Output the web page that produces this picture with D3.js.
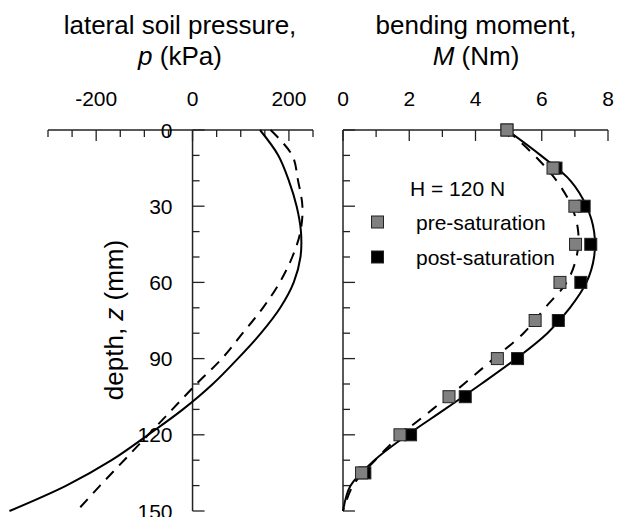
<!DOCTYPE html>
<html>
<head>
<meta charset="utf-8">
<script src="https://cdn.jsdelivr.net/npm/d3@7"></script>
<style>
  html, body { margin: 0; padding: 0; background: #fff; }
  svg { display: block; font-family: "Liberation Sans", Arial, sans-serif; }
</style>
</head>
<body>
<svg id="chart" width="617" height="517"></svg>
<script>
// ---- data ----
const depthGrid = [0, 10, 20, 30, 40, 50, 60, 70, 80, 90, 100, 110, 120, 130, 140, 150];
const pressureSolid = [140, 178, 200, 216, 225, 224, 210, 182, 142, 94, 42, -20, -92, -168, -262, -380];
const pressureDashed = [162, 207, 219, 228, 224, 207, 181, 146, 104, 61, 8, -42, -92, -142, -192, -240];
const momentSolid = [4.95, 5.97, 6.87, 7.35, 7.58, 7.58, 7.35, 6.85, 6.17, 5.23, 4.17, 3.07, 1.95, 0.95, 0.23, 0];
const momentDashed = [4.95, 5.78, 6.45, 6.9, 7.1, 7.05, 6.75, 6.1, 5.45, 4.55, 3.65, 2.7, 1.75, 0.97, 0.3, 0];

const markerDepths = [0, 15, 30, 45, 60, 75, 90, 105, 120, 135];
const momentPre = [4.95, 6.34, 7.0, 7.02, 6.55, 5.8, 4.66, 3.2, 1.72, 0.56];
const momentPost = [4.95, 6.43, 7.28, 7.48, 7.18, 6.5, 5.27, 3.69, 2.04, 0.66];

const pressureTicks = [-300, -250, -200, -150, -100, -50, 0, 50, 100, 150, 200, 250];
const pressureLabels = [-200, 0, 200];
const momentTicks = [0, 1, 2, 3, 4, 5, 6, 7, 8];
const momentLabels = [0, 2, 4, 6, 8];
const depthTicks = [0, 10, 20, 30, 40, 50, 60, 70, 80, 90, 100, 110, 120, 130, 140, 150];
const depthLabels = [0, 30, 60, 90, 120, 150];

const legendTitle = "H = 120 N";
const seriesNames = ["pre-saturation", "post-saturation"];

// ---- layout ----
const svg = d3.select("#chart");
const yTop = 130, yBottom = 511;
const y = d3.scaleLinear().domain([0, 150]).range([yTop, yBottom]);
const xP = d3.scaleLinear().domain([-300, 250]).range([48, 313]);
const xM = d3.scaleLinear().domain([0, 8]).range([343, 608]);

const axisColor = "#222";
const majorLen = 11, minorLen = 7;

function drawXAxis(scale, ticks, labels, majors) {
  const g = svg.append("g");
  g.append("line").attr("x1", scale.range()[0]).attr("x2", scale.range()[1])
    .attr("y1", yTop).attr("y2", yTop).attr("stroke", axisColor).attr("stroke-width", 1.5);
  g.selectAll("line.t").data(ticks).enter().append("line")
    .attr("x1", d => scale(d)).attr("x2", d => scale(d))
    .attr("y1", yTop).attr("y2", d => yTop + (majors.includes(d) ? majorLen : minorLen))
    .attr("stroke", axisColor).attr("stroke-width", 1.3);
  g.selectAll("text").data(labels).enter().append("text")
    .attr("x", d => scale(d)).attr("y", 106)
    .attr("text-anchor", "middle").attr("font-size", 21).attr("fill", "#000")
    .text(d => String(d));
}

function drawYAxis(x0, withLabels) {
  const g = svg.append("g");
  g.append("line").attr("x1", x0).attr("x2", x0).attr("y1", yTop).attr("y2", yBottom)
    .attr("stroke", axisColor).attr("stroke-width", 1.5);
  g.selectAll("line.t").data(depthTicks).enter().append("line")
    .attr("x1", x0).attr("x2", d => x0 + (depthLabels.includes(d) ? majorLen + 1 : minorLen))
    .attr("y1", d => y(d)).attr("y2", d => y(d))
    .attr("stroke", axisColor).attr("stroke-width", 1.3);
  if (withLabels) {
    g.selectAll("text").data(depthLabels).enter().append("text")
      .attr("x", x0 - 20).attr("y", d => y(d)).attr("dy", "0.36em")
      .attr("text-anchor", "end").attr("font-size", 21).attr("fill", "#000")
      .text(d => String(d));
  }
}

// titles
function title(cx, line1, italic, rest) {
  svg.append("text").attr("x", cx).attr("y", 34).attr("text-anchor", "middle")
    .attr("font-size", 26).text(line1);
  const t = svg.append("text").attr("x", cx).attr("y", 65).attr("text-anchor", "middle")
    .attr("font-size", 26);
  t.append("tspan").attr("font-style", "italic").text(italic);
  t.append("tspan").text(rest);
}
title(180, "lateral soil pressure,", "p", " (kPa)");
title(476, "bending moment,", "M", " (Nm)");

// y label
const yl = svg.append("text").attr("transform", "translate(123,320) rotate(-90)")
  .attr("text-anchor", "middle").attr("font-size", 26);
yl.append("tspan").text("depth, ");
yl.append("tspan").attr("font-style", "italic").text("z");
yl.append("tspan").text(" (mm)");

drawXAxis(xP, pressureTicks, pressureLabels, [-200, 0, 200]);
drawXAxis(xM, momentTicks, momentLabels, [0, 2, 4, 6, 8]);
drawYAxis(xP(0), true);
drawYAxis(xM(0), false);

// curves
const curve = d3.curveCatmullRom.alpha(0.5);
const pLine = d3.line().x(d => xP(d[1])).y(d => y(d[0])).curve(curve);
const mLine = d3.line().x(d => xM(d[1])).y(d => y(d[0])).curve(curve);

svg.append("path").datum(d3.zip(depthGrid, pressureSolid)).attr("d", pLine)
  .attr("fill", "none").attr("stroke", "#000").attr("stroke-width", 2);
svg.append("path").datum(d3.zip(depthGrid, pressureDashed)).attr("d", pLine)
  .attr("fill", "none").attr("stroke", "#000").attr("stroke-width", 2)
  .attr("stroke-dasharray", "11,8");

svg.append("path").datum(d3.zip(depthGrid, momentDashed)).attr("d", mLine)
  .attr("fill", "none").attr("stroke", "#000").attr("stroke-width", 2)
  .attr("stroke-dasharray", "11,9");
svg.append("path").datum(d3.zip(depthGrid, momentSolid)).attr("d", mLine)
  .attr("fill", "none").attr("stroke", "#000").attr("stroke-width", 2);

// markers
const sq = 12;
function squares(values, fill) {
  svg.append("g").selectAll("rect").data(d3.zip(markerDepths, values)).enter().append("rect")
    .attr("x", d => xM(d[1]) - sq / 2).attr("y", d => y(d[0]) - sq / 2)
    .attr("width", sq).attr("height", sq)
    .attr("fill", fill).attr("stroke", "#222").attr("stroke-width", 1);
}
squares(momentPost, "#000");
squares(momentPre, "#808080");

// legend
svg.append("text").attr("x", 410).attr("y", 196).attr("font-size", 21).text(legendTitle);
const legendFills = ["#808080", "#000"];
seriesNames.forEach((name, i) => {
  const cy = 222 + i * 35;
  svg.append("rect").attr("x", 377.5 - sq / 2).attr("y", cy - sq / 2)
    .attr("width", sq).attr("height", sq)
    .attr("fill", legendFills[i]).attr("stroke", "#222").attr("stroke-width", 1);
  svg.append("text").attr("x", 416).attr("y", cy).attr("dy", "0.36em")
    .attr("font-size", 21).text(name);
});
</script>
</body>
</html>
